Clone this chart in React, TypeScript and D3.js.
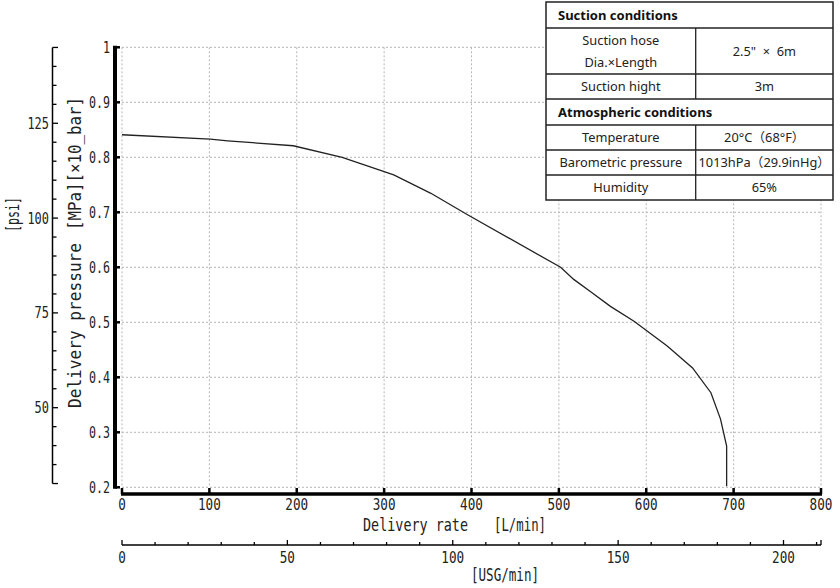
import React from "react";
import * as d3 from "d3";

const flowLmin = [0, 101, 121, 196, 252, 311, 353, 395, 502, 517, 536, 559, 586, 624, 653, 674, 685, 692, 692];
const pressureMPa = [0.841, 0.833, 0.830, 0.821, 0.800, 0.768, 0.735, 0.696, 0.600, 0.578, 0.556, 0.529, 0.502, 0.457, 0.417, 0.372, 0.324, 0.275, 0.202];

const flowTicks = [0, 100, 200, 300, 400, 500, 600, 700, 800];
const pressureTicks = [0.2, 0.3, 0.4, 0.5, 0.6, 0.7, 0.8, 0.9, 1];
const pressureTickLabels = ["0.2", "0.3", "0.4", "0.5", "0.6", "0.7", "0.8", "0.9", "1"];
const psiLabels = [50, 75, 100, 125];
const usgLabels = [0, 50, 100, 150, 200];

const conditionRows = [
  { kind: "head", label: "Suction conditions" },
  { kind: "row", label: ["Suction hose", "Dia.×Length"], value: "2.5\"  ×  6m" },
  { kind: "row", label: ["Suction hight"], value: "3m" },
  { kind: "head", label: "Atmospheric conditions" },
  { kind: "row", label: ["Temperature"], value: "20°C（68°F）" },
  { kind: "row", label: ["Barometric pressure"], value: "1013hPa（29.9inHg）" },
  { kind: "row", label: ["Humidity"], value: "65%" },
];
const rowHeights = [26, 46, 25, 26, 25, 25, 25];

const PSI_TO_MPA = 0.00689476;
const USG_TO_L = 3.78541;

const mono = "'DejaVu Sans Mono', monospace";
const tableFont = "'Noto Sans', 'Noto Sans CJK JP', sans-serif";

export default function App() {
  const x = d3.scaleLinear().domain([0, 800]).range([122, 821]);
  const y = d3.scaleLinear().domain([0.2, 1]).range([487.3, 47.3]);
  const yPsi = (p: number) => y(p * PSI_TO_MPA);
  const xUsg = (u: number) => x(u * USG_TO_L);

  const line = d3
    .line<number>()
    .x((_, i) => x(flowLmin[i]))
    .y((d) => y(d));

  const psiMinor = d3.range(30, 146, 5);
  const usgMinor = d3.range(0, 211, 10);
  const usgMax = 800 / USG_TO_L;

  const tX0 = 546, tX1 = 833, tMid = 695.7, tY0 = 2;
  const rowY: number[] = [];
  let acc = tY0;
  rowHeights.forEach((h) => { rowY.push(acc); acc += h; });
  const tY1 = acc;

  const axisX = 115;
  const axisYLine = 494;
  const usgY = 545;

  return (
    <svg width={840} height={588} style={{ position: "absolute", left: 0, top: 0, background: "#fff" }}>
      {/* grid */}
      <g stroke="#b5b5b5" strokeWidth={1} strokeDasharray="2,2">
        {flowTicks.map((t) => (
          <line key={"gx" + t} x1={x(t)} x2={x(t)} y1={y(1)} y2={y(0.2)} />
        ))}
        {pressureTicks.map((t) => (
          <line key={"gy" + t} x1={x(0)} x2={x(800)} y1={y(t)} y2={y(t)} />
        ))}
      </g>

      {/* curve */}
      <path d={line(pressureMPa) || ""} fill="none" stroke="#222" strokeWidth={1.3} />

      {/* main y axis */}
      <line x1={axisX} x2={axisX} y1={y(1) - 1.5} y2={y(0.2) + 1.5} stroke="#000" strokeWidth={4} />
      {pressureTicks.map((t, i) => (
        <g key={"yt" + t}>
          <line x1={axisX} x2={axisX + 5} y1={y(t)} y2={y(t)} stroke="#000" strokeWidth={2.5} />
          <text
            x={110}
            y={y(t) + 5.5}
            textAnchor="end"
            fontFamily={mono}
            fontSize={15}
            textLength={pressureTickLabels[i].length === 1 ? 7 : 21}
            lengthAdjust="spacingAndGlyphs"
            fill="#222"
          >
            {pressureTickLabels[i]}
          </text>
        </g>
      ))}

      {/* psi axis */}
      <line x1={52.5} x2={52.5} y1={yPsi(145)} y2={yPsi(30)} stroke="#000" strokeWidth={1.5} />
      {psiMinor.map((p) => (
        <line key={"pm" + p} x1={52.5} x2={p % 25 === 0 || p === 145 || p === 30 ? 58 : 56.5} y1={yPsi(p)} y2={yPsi(p)} stroke="#000" strokeWidth={1.3} />
      ))}
      {psiLabels.map((p) => (
        <text
          key={"pl" + p}
          x={49}
          y={yPsi(p) + 5.5}
          textAnchor="end"
          fontFamily={mono}
          fontSize={15}
          textLength={String(p).length * 7.2}
          lengthAdjust="spacingAndGlyphs"
          fill="#222"
        >
          {p}
        </text>
      ))}

      {/* main x axis */}
      <line x1={x(0) - 1} x2={x(800) + 1} y1={axisYLine} y2={axisYLine} stroke="#000" strokeWidth={3.5} />
      {flowTicks.map((t) => (
        <g key={"xt" + t}>
          <line x1={x(t)} x2={x(t)} y1={axisYLine} y2={axisYLine - 6} stroke="#000" strokeWidth={2.5} />
          <text
            x={x(t)}
            y={510}
            textAnchor="middle"
            fontFamily={mono}
            fontSize={15}
            textLength={String(t).length * 7.6}
            lengthAdjust="spacingAndGlyphs"
            fill="#222"
          >
            {t}
          </text>
        </g>
      ))}

      {/* USG axis */}
      <line x1={xUsg(0)} x2={xUsg(usgMax)} y1={usgY} y2={usgY} stroke="#000" strokeWidth={1.5} />
      {usgMinor.map((u) => (
        <line key={"um" + u} x1={xUsg(u)} x2={xUsg(u)} y1={usgY} y2={usgY - (u % 50 === 0 ? 5 : 3)} stroke="#000" strokeWidth={1.3} />
      ))}
      <line x1={xUsg(usgMax)} x2={xUsg(usgMax)} y1={usgY} y2={usgY - 5} stroke="#000" strokeWidth={1.3} />
      {usgLabels.map((u) => (
        <text
          key={"ul" + u}
          x={xUsg(u)}
          y={562.5}
          textAnchor="middle"
          fontFamily={mono}
          fontSize={15}
          textLength={String(u).length * 7.6}
          lengthAdjust="spacingAndGlyphs"
          fill="#222"
        >
          {u}
        </text>
      ))}

      {/* axis titles */}
      <text x={363} y={531} fontFamily={mono} fontSize={17} textLength={105} lengthAdjust="spacingAndGlyphs" fill="#222">
        Delivery rate
      </text>
      <text x={494} y={531} fontFamily={mono} fontSize={17} textLength={52} lengthAdjust="spacingAndGlyphs" fill="#222">
        [L/min]
      </text>
      <text x={471} y={581} fontFamily={mono} fontSize={17} textLength={68} lengthAdjust="spacingAndGlyphs" fill="#222">
        [USG/min]
      </text>
      <g transform="translate(81,408) rotate(-90)">
        <text x={0} y={0} fontFamily={mono} fontSize={17} textLength={165} lengthAdjust="spacingAndGlyphs" fill="#222">
          Delivery pressure
        </text>
        <text x={178} y={0} fontFamily={mono} fontSize={17} textLength={133} lengthAdjust="spacingAndGlyphs" fill="#222">
          [MPa][×10_bar]
        </text>
      </g>
      <g transform="translate(19,232) rotate(-90)">
        <text x={0} y={0} fontFamily={mono} fontSize={17} textLength={35} lengthAdjust="spacingAndGlyphs" fill="#222">
          [psi]
        </text>
      </g>

      {/* conditions table */}
      <g>
        <rect x={tX0} y={tY0} width={tX1 - tX0} height={tY1 - tY0} fill="#fff" stroke="#222" strokeWidth={1.5} />
        {conditionRows.map((r, i) => {
          const top = rowY[i];
          const h = rowHeights[i];
          const cy = top + h / 2;
          return (
            <g key={"row" + i}>
              {i > 0 && <line x1={tX0} x2={tX1} y1={top} y2={top} stroke="#222" strokeWidth={1.3} />}
              {r.kind === "head" ? (
                <text x={tX0 + 12} y={cy + 4.5} fontFamily={tableFont} fontSize={13} fontWeight={700} fill="#111">
                  {r.label as string}
                </text>
              ) : (
                <>
                  <line x1={tMid} x2={tMid} y1={top} y2={top + h} stroke="#222" strokeWidth={1.3} />
                  {(r.label as string[]).map((l, j, arr) => (
                    <text
                      key={j}
                      x={(tX0 + tMid) / 2}
                      y={cy + 4.5 + (j - (arr.length - 1) / 2) * 22}
                      textAnchor="middle"
                      fontFamily={tableFont}
                      fontSize={12.8}
                      fill="#222"
                    >
                      {l}
                    </text>
                  ))}
                  <text x={(tMid + tX1) / 2} y={cy + 4.5} textAnchor="middle" fontFamily={tableFont} fontSize={12.8} fill="#222" style={{ whiteSpace: "pre" }}>
                    {r.value}
                  </text>
                </>
              )}
            </g>
          );
        })}
      </g>
    </svg>
  );
}
